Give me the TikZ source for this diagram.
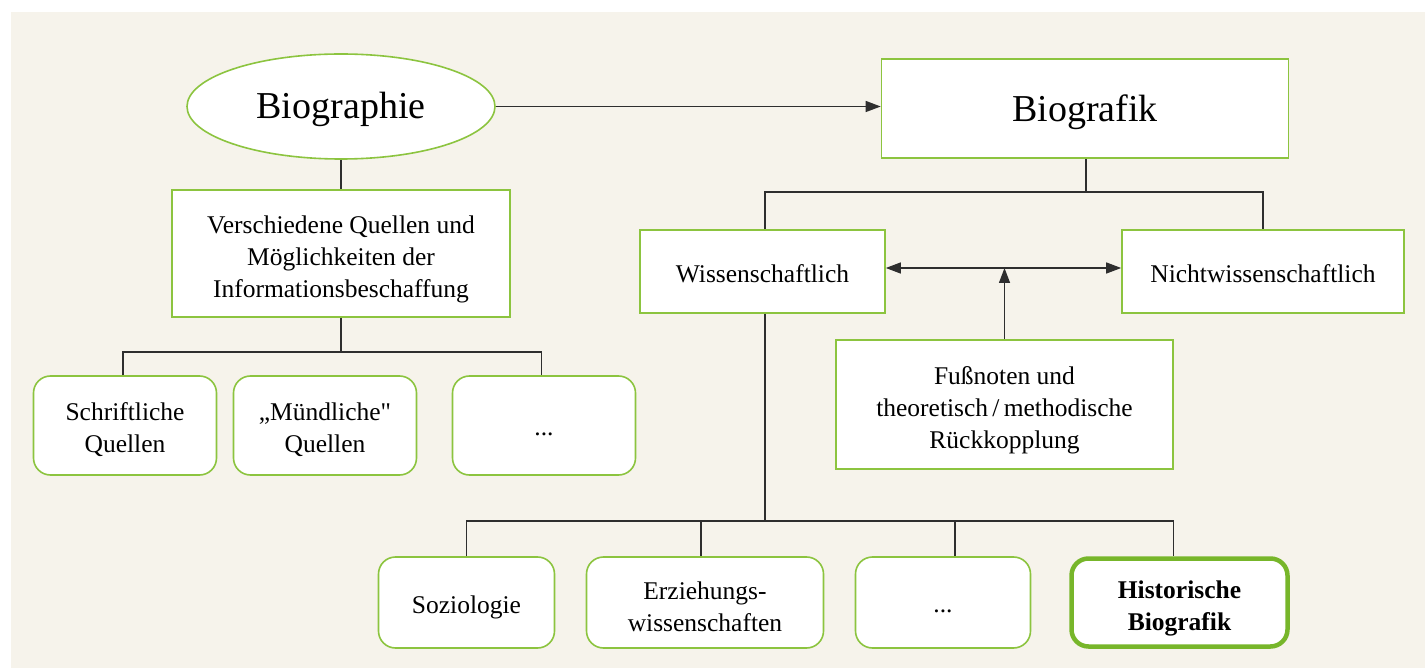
\documentclass[tikz,border=0pt]{standalone}
\usepackage{fontspec}
\setmainfont{Liberation Serif}
\usetikzlibrary{arrows.meta,shapes.geometric}
\definecolor{bg}{HTML}{F6F3EB}
\definecolor{grn}{HTML}{8CC43F}
\definecolor{grnd}{HTML}{77B62A}
\definecolor{ln}{HTML}{2E2E2E}
\tikzset{
  box/.style={draw=grn, line width=1.6pt, fill=white, inner sep=0pt},
  rbox/.style={box, rounded corners=17pt},
  lbl/.style={align=center, inner sep=0pt, font=\fontsize{25.5}{32}\selectfont},
  biglbl/.style={lbl, font=\fontsize{38}{42}\selectfont},
  boldlbl/.style={lbl, font=\fontsize{25.5}{32}\selectfont\bfseries},
  conn/.style={draw=ln, line width=1.3pt},
  arr/.style={conn, -{Triangle[length=15pt,width=11pt]}},
  arrs/.style={conn, {Triangle[length=15pt,width=11pt]}-{Triangle[length=15pt,width=11pt]}},
}
\begin{document}
\begin{tikzpicture}[x=1pt,y=-1pt]
\useasboundingbox (0,0) rectangle (1425,668);
\fill[white] (0,0) rectangle (1425,668);
\fill[bg] (11,12) rectangle (1425,668);

% top level
\node[box, ellipse, minimum width=308, minimum height=105,
  label={[biglbl, yshift=-3pt]center:Biographie}] (bio) at (341,106.5) {};
\node[box, minimum width=407, minimum height=99,
  label={[biglbl, yshift=-4pt]center:Biografik}] (bgk) at (1085,108.5) {};
\draw[arr] (bio.east) -- (bgk.west |- bio.east);

% left branch
\node[box, minimum width=338, minimum height=127,
  label={[lbl, yshift=-6pt]center:{Verschiedene Quellen und\\Möglichkeiten der\\Informationsbeschaffung}}] (vq) at (341,253.5) {};
\draw[conn] (bio.south) -- (vq.north);

\node[rbox, minimum width=183, minimum height=99,
  label={[lbl, yshift=-4pt]center:{Schriftliche\\Quellen}}] (sq) at (125,425.5) {};
\node[rbox, minimum width=183, minimum height=99,
  label={[lbl, yshift=-4pt]center:{„Mündliche\textquotedbl\\Quellen}}] (mq) at (325,425.5) {};
\node[rbox, minimum width=183, minimum height=99,
  label={[lbl, yshift=-9pt]center:{...}}] (dq) at (544,425.5) {};

\coordinate (lbus) at (341,352);
\draw[conn] (vq.south) -- (lbus);
\draw[conn] ([xshift=-2pt]sq.north) |- (lbus) -| ([xshift=-2.5pt]dq.north);

% right branch
\node[box, minimum width=245, minimum height=83,
  label={[lbl, yshift=-2pt]center:Wissenschaftlich}] (ws) at (762.5,271.5) {};
\node[box, minimum width=282, minimum height=83,
  label={[lbl, yshift=-2pt]center:Nichtwissenschaftlich}] (nw) at (1263,271.5) {};
\coordinate (rbus) at (1086,192);
\draw[conn] (bgk.south -| rbus) -- (rbus);
\draw[conn] ([xshift=2.5pt]ws.north) |- (rbus) -| (nw.north);

\node[box, minimum width=337, minimum height=129,
  label={[lbl, yshift=-6pt]center:{Fußnoten und\\theoretisch\,/\,methodische\\Rückkopplung}}] (fn) at (1004.5,404.5) {};
\coordinate (mid) at (1004.5,268);
\draw[arrs] (ws.east |- mid) -- (nw.west |- mid);
\draw[arr] (fn.north) -- (mid);

% bottom level
\node[rbox, minimum width=176, minimum height=91,
  label={[lbl, yshift=-5pt]center:Soziologie}] (soz) at (466.5,602.5) {};
\node[rbox, minimum width=237, minimum height=91,
  label={[lbl, yshift=-4pt]center:{Erziehungs-\\wissenschaften}}] (erz) at (705,602.5) {};
\node[rbox, minimum width=175, minimum height=91,
  label={[lbl, yshift=-9pt]center:{...}}] (dq2) at (943,602.5) {};
\node[rbox, draw=grnd, line width=4.5pt, minimum width=216, minimum height=88,
  label={[boldlbl, yshift=-6pt]center:{Historische\\Biografik}}] (hist) at (1179.5,602.5) {};

\coordinate (bbus) at (765,521);
\draw[conn] ([xshift=2.5pt]ws.south) -- (bbus);
\draw[conn] (soz.north) |- (bbus) -| ([xshift=-6pt]hist.north);
\draw[conn] ([xshift=-4pt]erz.north) -- ([xshift=-4pt]erz.north |- bbus);
\draw[conn] ([xshift=12pt]dq2.north) -- ([xshift=12pt]dq2.north |- bbus);
\end{tikzpicture}
\end{document}
